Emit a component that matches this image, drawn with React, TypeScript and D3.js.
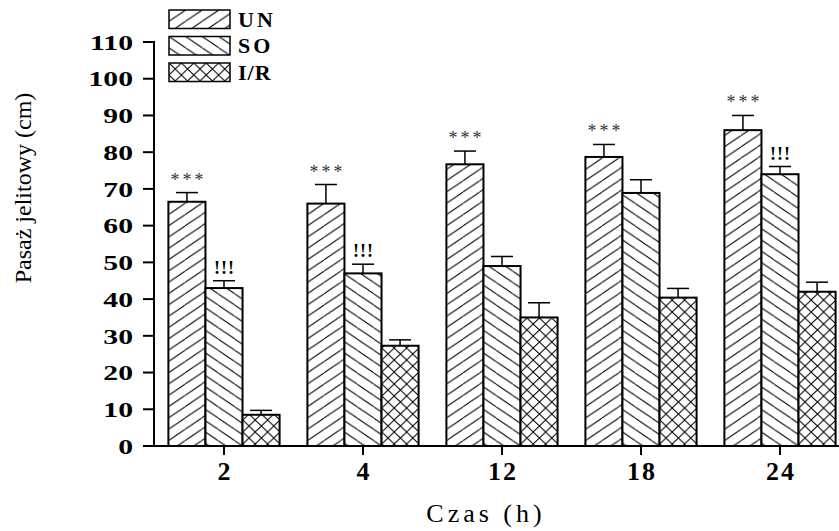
import React from "react";
import { scaleBand, scaleLinear } from "d3";

const width = 839;
const height = 531;

// Data
const groups = ["2", "4", "12", "18", "24"];
const seriesKeys = ["UN", "SO", "I/R"];
const unValues = [66.5, 66, 76.7, 78.7, 86];
const unErrors = [2.5, 5.2, 3.6, 3.4, 4];
const soValues = [43, 47, 49, 68.9, 74];
const soErrors = [2, 2.5, 2.6, 3.6, 2.1];
const irValues = [8.5, 27.3, 35, 40.4, 42];
const irErrors = [1.2, 1.6, 4, 2.5, 2.6];
const unMarks = ["***", "***", "***", "***", "***"];
const soMarks = ["!!!", "!!!", "", "", "!!!"];
const irMarks = ["", "", "", "", ""];
const yTicks = [0, 10, 20, 30, 40, 50, 60, 70, 80, 90, 100, 110];

const values = [unValues, soValues, irValues];
const errors = [unErrors, soErrors, irErrors];
const marks = [unMarks, soMarks, irMarks];
const patternIds = ["pat-un", "pat-so", "pat-ir"];
const legendSpacing = [3, 3, 1];

const font = "'Liberation Serif', 'Times New Roman', serif";

// layout
const axisX = 154;
const axisY = 446;
const topY = 42;

const App = () => {
  const x0 = scaleBand<string>()
    .domain(groups)
    .range([axisX + 0.5, axisX + 0.5 + 139 * 5])
    .paddingInner(0.2)
    .paddingOuter(0.1);
  const x1 = scaleBand<string>()
    .domain(seriesKeys)
    .range([0, x0.bandwidth()]);
  const y = scaleLinear().domain([0, 110]).range([axisY, topY]);

  const capW = 22;

  return (
    <svg
      width={width}
      height={height}
      style={{ position: "absolute", left: 0, top: 0, background: "#fff" }}
    >
      <defs>
        {/* UN: forward diagonal */}
        <pattern id="pat-un" patternUnits="userSpaceOnUse" width={16.6} height={11.3}>
          <rect width={16.6} height={11.3} fill="#fff" />
          <path
            d="M0,11.3L16.6,0M-16.6,11.3L0,0M16.6,11.3L33.2,0"
            stroke="#000"
            strokeWidth={1}
          />
        </pattern>
        {/* SO: backward diagonal */}
        <pattern id="pat-so" patternUnits="userSpaceOnUse" width={16.6} height={11.3}>
          <rect width={16.6} height={11.3} fill="#fff" />
          <path
            d="M0,0L16.6,11.3M-16.6,0L0,11.3M16.6,0L33.2,11.3"
            stroke="#000"
            strokeWidth={1}
          />
        </pattern>
        {/* I/R: cross hatch */}
        <pattern id="pat-ir" patternUnits="userSpaceOnUse" width={12.4} height={12}>
          <rect width={12.4} height={12} fill="#fff" />
          <path
            d="M0,0L12.4,12M0,12L12.4,0"
            stroke="#000"
            strokeWidth={1}
          />
        </pattern>
      </defs>

      {/* bars */}
      {groups.map((g, gi) => (
        <g key={g} transform={`translate(${x0(g)},0)`}>
          {seriesKeys.map((s, si) => {
            const v = values[si][gi];
            const e = errors[si][gi];
            const bx = x1(s)!;
            const bw = x1.bandwidth();
            const cx = bx + bw / 2;
            const capY = y(v + e);
            const mark = marks[si][gi];
            return (
              <g key={s}>
                <line x1={cx} x2={cx} y1={y(v)} y2={capY} stroke="#000" strokeWidth={1.5} />
                <line
                  x1={cx - capW / 2}
                  x2={cx + capW / 2}
                  y1={capY}
                  y2={capY}
                  stroke="#000"
                  strokeWidth={1.5}
                />
                <rect
                  x={bx}
                  y={y(v)}
                  width={bw}
                  height={axisY - y(v)}
                  fill={`url(#${patternIds[si]})`}
                  stroke="#000"
                  strokeWidth={2}
                />
                {mark === "***" && (
                  <text
                    x={cx + 1.5}
                    y={capY - 7}
                    textAnchor="middle"
                    fontFamily={font}
                    fontSize={18}
                    letterSpacing={3}
                    fill="#333"
                  >
                    {mark}
                  </text>
                )}
                {mark === "!!!" && (
                  <text
                    x={cx + 0.5}
                    y={capY - 7}
                    textAnchor="middle"
                    fontFamily={font}
                    fontSize={18}
                    fontWeight="bold"
                    letterSpacing={1}
                    fill="#000"
                  >
                    {mark}
                  </text>
                )}
              </g>
            );
          })}
        </g>
      ))}

      {/* y axis */}
      <line x1={axisX} x2={axisX} y1={topY - 1} y2={axisY} stroke="#000" strokeWidth={2} />
      {yTicks.map((t) => (
        <g key={t} transform={`translate(0,${y(t)})`}>
          <line x1={axisX - 11} x2={axisX} stroke="#000" strokeWidth={2} />
          <text
            transform={`translate(133,0) scale(1.35,1)`}
            textAnchor="end"
            dy="0.35em"
            fontFamily={font}
            fontWeight="bold"
            fontSize={22}
          >
            {t}
          </text>
        </g>
      ))}

      {/* x axis */}
      <line x1={143} x2={width} y1={axisY} y2={axisY} stroke="#000" strokeWidth={2} />
      {groups.map((g) => {
        const cx = x0(g)! + x0.bandwidth() / 2;
        return (
          <g key={g}>
            <line x1={cx} x2={cx} y1={axisY} y2={axisY + 9} stroke="#000" strokeWidth={2} />
            <text
              x={cx + 1}
              y={480}
              textAnchor="middle"
              fontFamily={font}
              fontWeight="bold"
              fontSize={26}
              letterSpacing={2}
            >
              {g}
            </text>
          </g>
        );
      })}

      {/* axis titles */}
      <text
        x={486}
        y={522}
        textAnchor="middle"
        fontFamily={font}
        fontSize={26}
        letterSpacing={4}
      >
        Czas (h)
      </text>
      <text
        transform={`translate(31,188) rotate(-90)`}
        textAnchor="middle"
        fontFamily={font}
        fontSize={24}
      >
        Pasaż jelitowy (cm)
      </text>

      {/* legend */}
      {seriesKeys.map((s, i) => (
        <g key={s} transform={`translate(169,${10 + i * 26.5})`}>
          <rect
            width={61}
            height={18.5}
            fill={`url(#${patternIds[i]})`}
            stroke="#000"
            strokeWidth={1.5}
          />
          <text
            x={69}
            y={16.5}
            fontFamily={font}
            fontWeight="bold"
            fontSize={22}
            letterSpacing={legendSpacing[i]}
          >
            {s}
          </text>
        </g>
      ))}
    </svg>
  );
};

export default App;
